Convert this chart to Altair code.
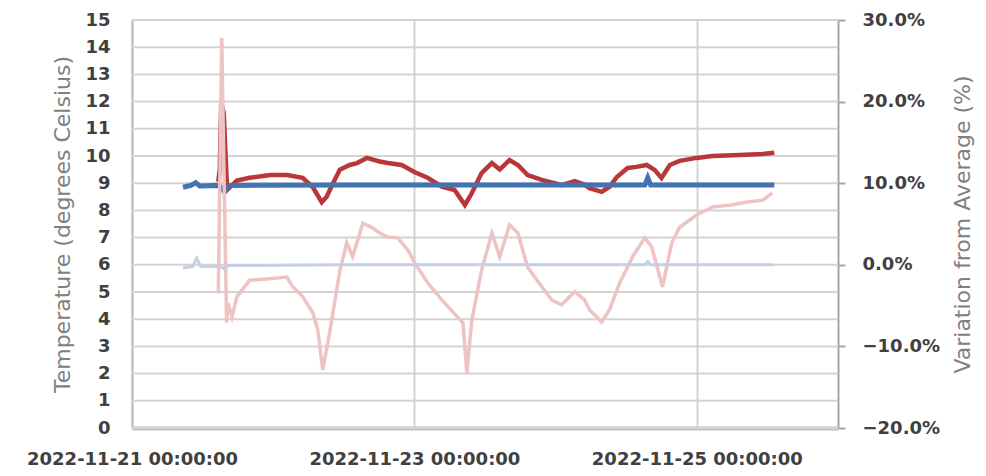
import altair as alt
import pandas as pd

# ---- data ----
red_times = [
    "2022-11-21 14:40", "2022-11-21 14:55", "2022-11-21 15:10", "2022-11-21 15:35",
    "2022-11-21 16:10", "2022-11-21 17:50", "2022-11-21 20:00", "2022-11-21 23:30",
    "2022-11-22 02:20", "2022-11-22 05:00", "2022-11-22 06:45", "2022-11-22 08:15",
    "2022-11-22 09:05", "2022-11-22 10:10", "2022-11-22 11:20", "2022-11-22 13:00",
    "2022-11-22 14:15", "2022-11-22 15:55", "2022-11-22 18:05", "2022-11-22 19:30",
    "2022-11-22 21:50", "2022-11-23 00:05", "2022-11-23 02:15", "2022-11-23 04:40",
    "2022-11-23 06:50", "2022-11-23 08:35", "2022-11-23 09:45", "2022-11-23 11:25",
    "2022-11-23 13:10", "2022-11-23 14:30", "2022-11-23 16:10", "2022-11-23 17:35",
    "2022-11-23 19:15", "2022-11-23 21:40", "2022-11-23 23:50", "2022-11-24 01:00",
    "2022-11-24 03:15", "2022-11-24 04:55", "2022-11-24 05:45", "2022-11-24 07:50",
    "2022-11-24 09:10", "2022-11-24 10:25", "2022-11-24 12:15", "2022-11-24 13:45",
    "2022-11-24 15:30", "2022-11-24 16:50", "2022-11-24 18:00", "2022-11-24 19:25",
    "2022-11-24 21:05", "2022-11-24 23:58", "2022-11-25 02:40", "2022-11-25 07:15",
    "2022-11-25 11:10", "2022-11-25 13:10",
]
red_values = [
    9.05, 9.5, 11.95, 11.6,
    8.75, 9.1, 9.2, 9.3,
    9.3, 9.2, 8.85, 8.3,
    8.5, 9.0, 9.5, 9.67,
    9.74, 9.93, 9.8, 9.74,
    9.67, 9.4, 9.2, 8.87,
    8.75, 8.2, 8.63, 9.37,
    9.74, 9.5, 9.85, 9.67,
    9.3, 9.12, 9.0, 8.93,
    9.08, 8.95, 8.82, 8.68,
    8.87, 9.23, 9.56, 9.6,
    9.67, 9.49, 9.19, 9.67,
    9.82, 9.93, 10.0, 10.04,
    10.07, 10.12,
]

blue_times = [
    "2022-11-21 08:40", "2022-11-21 10:00", "2022-11-21 10:50", "2022-11-21 11:30",
    "2022-11-21 14:50", "2022-11-21 15:40", "2022-11-21 16:30", "2022-11-22 12:00",
    "2022-11-23 12:00", "2022-11-24 15:10", "2022-11-24 15:40", "2022-11-24 16:10",
    "2022-11-25 13:10",
]
blue_values = [8.85, 8.92, 9.02, 8.9, 8.92, 8.7, 8.92, 8.93, 8.93, 8.93, 9.2, 8.93, 8.93]

pink_times = [
    "2022-11-21 14:40", "2022-11-21 15:15", "2022-11-21 16:05", "2022-11-21 16:20",
    "2022-11-21 17:00", "2022-11-21 17:50", "2022-11-21 20:00", "2022-11-21 23:25",
    "2022-11-22 02:20", "2022-11-22 03:20", "2022-11-22 05:00", "2022-11-22 06:45",
    "2022-11-22 07:35", "2022-11-22 08:25", "2022-11-22 09:40", "2022-11-22 11:20",
    "2022-11-22 12:30", "2022-11-22 13:30", "2022-11-22 15:15", "2022-11-22 16:56",
    "2022-11-22 18:05", "2022-11-22 19:30", "2022-11-22 21:10", "2022-11-22 22:55",
    "2022-11-23 00:05", "2022-11-23 02:15", "2022-11-23 04:40", "2022-11-23 07:20",
    "2022-11-23 08:15", "2022-11-23 08:55", "2022-11-23 09:45", "2022-11-23 11:25",
    "2022-11-23 13:10", "2022-11-23 14:30", "2022-11-23 16:10", "2022-11-23 17:35",
    "2022-11-23 19:15", "2022-11-23 21:40", "2022-11-23 23:20", "2022-11-24 01:00",
    "2022-11-24 03:15", "2022-11-24 04:55", "2022-11-24 05:45", "2022-11-24 07:50",
    "2022-11-24 09:10", "2022-11-24 10:55", "2022-11-24 13:05", "2022-11-24 15:10",
    "2022-11-24 16:20", "2022-11-24 18:10", "2022-11-24 19:45", "2022-11-24 21:05",
    "2022-11-24 23:58", "2022-11-25 02:40", "2022-11-25 05:35", "2022-11-25 08:30",
    "2022-11-25 11:10", "2022-11-25 12:50",
]
pink_values = [
    -3.5, 27.8, -7.1, -4.7,
    -6.4, -3.9, -1.9, -1.7,
    -1.5, -2.7, -3.9, -5.9,
    -8.0, -12.9, -8.0, -0.7,
    2.7, 1.0, 5.1, 4.5,
    3.9, 3.4, 3.3, 1.8,
    0.2, -2.2, -4.3, -6.4,
    -7.1, -13.3, -6.8, -0.7,
    3.9, 1.0, 4.9, 3.9,
    -0.3, -2.7, -4.3, -4.9,
    -3.3, -4.3, -5.5, -7.0,
    -5.5, -2.2, 1.0, 3.3,
    2.2, -2.7, 2.7, 4.6,
    6.1, 7.1, 7.3, 7.7,
    7.9, 8.8,
]

lblue_times = [
    "2022-11-21 08:40", "2022-11-21 10:20", "2022-11-21 11:00", "2022-11-21 11:40",
    "2022-11-21 15:00", "2022-11-21 15:40", "2022-11-21 16:20", "2022-11-22 12:00",
    "2022-11-23 12:00", "2022-11-24 15:10", "2022-11-24 15:40", "2022-11-24 16:10",
    "2022-11-25 13:10",
]
lblue_values = [-0.4, -0.2, 0.8, -0.2, -0.2, -0.5, -0.1, 0.0, 0.0, 0.0, 0.4, 0.0, 0.0]

left_ticks = list(range(0, 16))
right_ticks = [-20, -10, 0, 10, 20, 30]
x_tick_dates = ["2022-11-21", "2022-11-23", "2022-11-25"]
x_domain_dates = ["2022-11-21", "2022-11-26"]


def frame(times, values):
    return pd.DataFrame({"time": pd.to_datetime(times), "value": values})


def dt(s):
    y, m, d = (int(p) for p in s.split("-"))
    return alt.DateTime(year=y, month=m, date=d)


LABEL_FONT = "DejaVu Sans"
TITLE_FONT = "DejaVu Sans"
LABEL_COLOR = "#404040"
TITLE_COLOR = "#808080"
GRID_COLOR = "#D3D3D3"

x_scale = alt.Scale(domain=[dt(s) for s in x_domain_dates], nice=False)
x_axis = alt.Axis(
    title=None,
    values=[dt(s) for s in x_tick_dates],
    format="%Y-%m-%d %H:%M:%S",
    labelFlush=False,
    labelOverlap=False,
    labelLimit=0,
    labelFont=LABEL_FONT, labelFontSize=18, labelFontWeight="bold", labelColor=LABEL_COLOR,
    labelPadding=22,
    ticks=False, tickSize=0,
    grid=True, gridColor=GRID_COLOR, gridWidth=2,
    domainColor="#BDBDBD", domainWidth=4,
)
x_enc = alt.X("time:T", scale=x_scale, axis=x_axis)

left_scale = alt.Scale(domain=[0, 15], nice=False, zero=False)
right_scale = alt.Scale(domain=[-20, 30], nice=False, zero=False)

left_axis = alt.Axis(
    orient="left",
    title="Temperature (degrees Celsius)",
    values=left_ticks,
    labelFont=LABEL_FONT, labelFontSize=18, labelFontWeight="bold", labelColor=LABEL_COLOR,
    labelPadding=22, ticks=False, tickSize=0,
    grid=False,
    domainColor="#BDBDBD", domainWidth=2,
    titleFont=TITLE_FONT, titleFontSize=22, titleFontWeight="normal", titleColor=TITLE_COLOR,
    titleAngle=270, titleX=-70, titleY=204, titleAlign="center", titleBaseline="middle",
)
right_axis = alt.Axis(
    orient="right",
    title="Variation from Average (%)",
    values=right_ticks,
    labelExpr="format(datum.value, '.1f') + '%'",
    labelFont=LABEL_FONT, labelFontSize=18, labelFontWeight="bold", labelColor=LABEL_COLOR,
    labelPadding=17, labelAlign="left",
    ticks=True, tickSize=7, tickWidth=2, tickColor="#A6A6A6",
    grid=False,
    domainColor="#A6A6A6", domainWidth=2,
    titleFont=TITLE_FONT, titleFontSize=22, titleFontWeight="normal", titleColor=TITLE_COLOR,
    titleAngle=270, titleX=124, titleY=204, titleAlign="center", titleBaseline="middle",
)

# horizontal gridlines: one two-point line per temperature tick, encoded like the series
grid_frames = [frame(x_domain_dates, [lv, lv]).assign(series=str(lv)) for lv in left_ticks]
grid_df = pd.concat(grid_frames, ignore_index=True)
grid = alt.Chart(grid_df).mark_line(
    color=GRID_COLOR, strokeWidth=2
).encode(
    x=x_enc,
    y=alt.Y("value:Q", scale=left_scale, axis=left_axis),
    detail="series:N",
)

pink = alt.Chart(frame(pink_times, pink_values)).mark_line(
    color="#EDC3C3", strokeWidth=3.5
).encode(x=x_enc, y=alt.Y("value:Q", scale=right_scale, axis=right_axis))
lblue = alt.Chart(frame(lblue_times, lblue_values)).mark_line(
    color="#C5D0E6", strokeWidth=3
).encode(x=x_enc, y=alt.Y("value:Q", scale=right_scale, axis=right_axis))

red = alt.Chart(frame(red_times, red_values)).mark_line(
    color="#B8383A", strokeWidth=4.5
).encode(x=x_enc, y=alt.Y("value:Q", scale=left_scale, axis=left_axis))
blue = alt.Chart(frame(blue_times, blue_values)).mark_line(
    color="#4273B2", strokeWidth=5
).encode(x=x_enc, y=alt.Y("value:Q", scale=left_scale, axis=left_axis))

chart = alt.layer(
    alt.layer(grid, red, blue), alt.layer(pink, lblue)
).resolve_scale(y="independent").properties(
    width=706,
    height=408,
    autosize=alt.AutoSizeParams(type="none"),
    padding={"left": 132, "top": 20, "right": 148, "bottom": 48},
    background="white",
).configure_view(stroke=None)

chart.save("out.html", embed_options={"renderer": "svg", "actions": False})
